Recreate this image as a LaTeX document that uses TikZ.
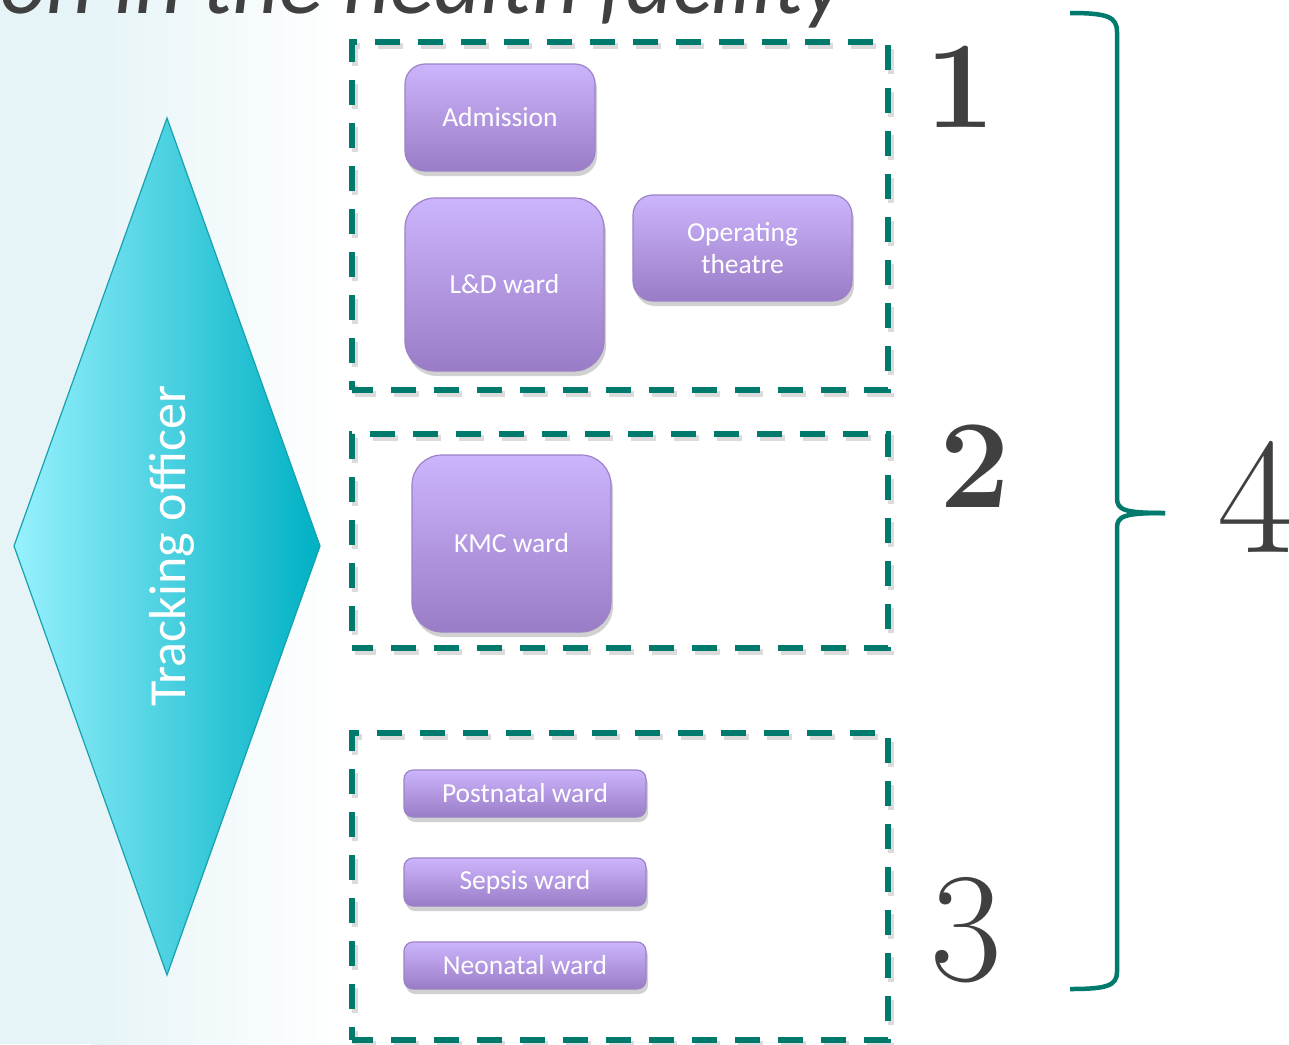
\documentclass[tikz,border=0pt]{standalone}
\usepackage{fontspec}
\newfontfamily\carl{Carlito}
\usetikzlibrary{shadows}
\definecolor{bgc}{HTML}{E6F4F7}
\definecolor{teal1}{HTML}{007A6C}
\definecolor{dtop}{HTML}{97F1FD}
\definecolor{dmid}{HTML}{70DCEA}
\definecolor{dbot}{HTML}{00B1C4}
\definecolor{dedge}{HTML}{17A0AE}
\definecolor{ptop}{HTML}{CCB5FC}
\definecolor{pbot}{HTML}{9A7CC6}
\definecolor{pedge}{HTML}{9B82C9}
\definecolor{numc}{HTML}{404040}
\tikzset{
  dashbox/.style={draw=teal1, line width=5.5pt, dash pattern=on 25pt off 18pt, dash phase=4pt,
    rectangle, inner sep=0pt, outer sep=0pt,
    preaction={draw=black!35, opacity=.4, line width=6pt, dash pattern=on 25pt off 18pt, dash phase=4pt,
      transform canvas={xshift=3pt,yshift=-4pt}}},
  pbox/.style={rectangle, rounded corners=#1, draw=pedge, line width=1.2pt,
    top color=ptop, bottom color=pbot, text=white, inner sep=0pt, outer sep=0pt,
    font=\carl\fontsize{27.5}{32}\selectfont, align=center,
    drop shadow={shadow xshift=2pt, shadow yshift=-5pt, opacity=.18, fill=black}},
  pbox/.default=20pt,
  numlab/.style={text=numc, inner sep=0pt, outer sep=0pt},
  bracepath/.style={draw=teal1, line width=4.5pt}
}
\begin{document}
\begin{tikzpicture}[x=1pt,y=-1pt]
\useasboundingbox (0,0) rectangle (1289,1044);
\clip (0,0) rectangle (1289,1044);
\fill[white] (0,0) rectangle (1289,1044);
\fill[left color=bgc, right color=white] (90,0) rectangle (340,1044);
\fill[bgc] (0,0) rectangle (90.5,1044);

% title fragment
\node[anchor=base east, text=numc, inner sep=0pt, font=\carl\itshape\fontsize{91}{91}\selectfont]
  (title) at (845,13) {on in the health facility};

% diamond
\path[draw=dedge, line width=1.2pt, left color=dtop, middle color=dmid, right color=dbot]
  (167,118) coordinate (dt) -- (320,546) coordinate (dr) -- (167,975) coordinate (db)
  -- (14,546) coordinate (dl) -- cycle;
\node[rotate=90, anchor=base, text=white, inner sep=0pt, font=\carl\fontsize{52}{52}\selectfont]
  (to) at (185,546) {Tracking officer};

% dashed groups
\node[dashbox, minimum width=536pt, minimum height=348pt] (g1) at (620,216) {};
\node[dashbox, minimum width=536pt, minimum height=214pt] (g2) at (620,541) {};
\node[dashbox, minimum width=536pt, minimum height=307pt] (g3) at (620,886.5) {};

% purple boxes
\node[pbox=20pt, minimum width=190pt, minimum height=107pt] (adm) at (500,117.5) {Admission};
\node[pbox=30pt, minimum width=199pt, minimum height=173pt] (ld) at (504.5,284.5) {L\&D ward};
\node[pbox=20pt, minimum width=219pt, minimum height=106pt] (ot) at (742.5,248) {Operating\\theatre};
\node[pbox=30pt, minimum width=199pt, minimum height=177pt] (kmc) at (511.5,543.5) {KMC ward};
\node[pbox=9pt, minimum width=242pt, minimum height=47pt] (pn) at (525,793.5) {Postnatal ward};
\node[pbox=9pt, minimum width=242pt, minimum height=48pt] (sp) at (525,882) {Sepsis ward};
\node[pbox=9pt, minimum width=242pt, minimum height=47pt] (nn) at (525,965.5) {Neonatal ward};

% numbers
\node[numlab, anchor=base, font=\bfseries\fontsize{124}{124}\selectfont] (n1) at (960,127) {1};
\node[numlab, anchor=base, font=\bfseries\fontsize{126}{126}\selectfont] (n2) at (975,507) {2};
\node[numlab, anchor=base, font=\fontsize{156}{156}\selectfont] (n3) at (966,980) {3};
\node[numlab, anchor=base west, font=\fontsize{166}{166}\selectfont] (n4) at (1217,552) {4};

% brace
\coordinate (bt) at (1070,13);
\coordinate (bm) at (1165,513);
\coordinate (bb) at (1070,989);
\draw[bracepath] (bt) .. controls (1108,13) and (1117,17) .. (1117,32)
  -- (1117,498) .. controls (1117,510) and (1124,513) .. (bm);
\draw[bracepath] (bm) .. controls (1124,513) and (1117,516) .. (1117,528)
  -- (1117,972) .. controls (1117,986) and (1106,989) .. (bb);
\end{tikzpicture}
\end{document}
